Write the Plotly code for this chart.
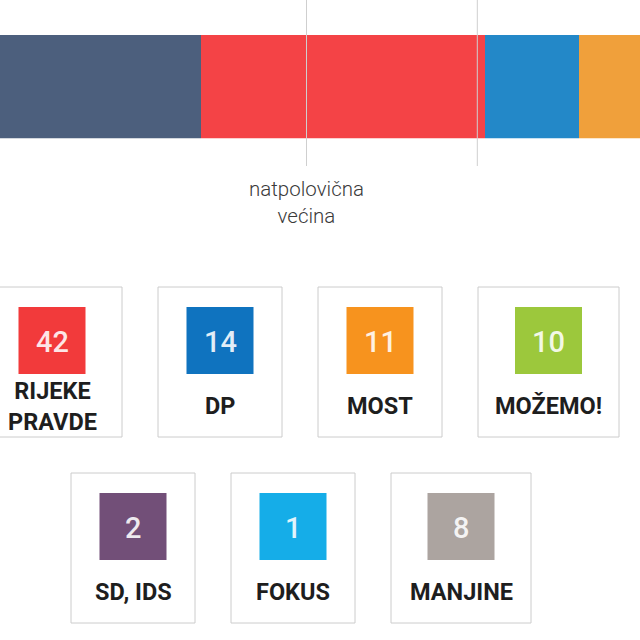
import plotly.graph_objects as go

# ---------------- data ----------------
bar_parties = ["HDZ", "Rijeke pravde", "DP", "Most", "Možemo!", "SD, IDS", "Fokus", "Manjine"]
bar_seats = [61, 42, 14, 11, 10, 2, 1, 8]
bar_colors = ["#4c5f7d", "#f44346", "#2388c8", "#f0a03b", "#9cc83c", "#724f78", "#15ade8", "#aca4a0"]

threshold_lines = [76.6, 101.9]          # majority / two-thirds markers (seat units)
threshold_label = "natpolovična<br>većina"

card_names_row1 = ["RIJEKE<br>PRAVDE", "DP", "MOST", "MOŽEMO!"]
card_seats_row1 = [42, 14, 11, 10]
card_colors_row1 = ["#f23a3b", "#0f73bf", "#f7931e", "#9cc83c"]

card_names_row2 = ["SD, IDS", "FOKUS", "MANJINE"]
card_seats_row2 = [2, 1, 8]
card_colors_row2 = ["#724f78", "#15ade8", "#aca4a0"]

# ---------------- figure ----------------
W = H = 640
fig = go.Figure()

for name, seats, col in zip(bar_parties, bar_seats, bar_colors):
    fig.add_trace(go.Bar(
        y=[0], x=[seats], name=name, orientation="h",
        marker=dict(color=col, line=dict(width=0)),
        hoverinfo="name+x", showlegend=False,
    ))

def px(x):
    return x / W

def py(y):
    return 1 - y / H

shapes = []
annotations = []

# threshold lines
for t in threshold_lines:
    shapes.append(dict(type="line", xref="x", yref="paper", x0=t, x1=t,
                       y0=py(166), y1=1.0, line=dict(color="#cfcfcf", width=1), layer="above"))

annotations.append(dict(xref="x", yref="paper", x=threshold_lines[0], y=py(203),
                        text=threshold_label, showarrow=False, xanchor="center", yanchor="middle",
                        borderpad=0,
                        font=dict(family="Roboto", size=20.5, color="#3a3a3a", weight=300)))

# cards
GAP = 36
SQ = 67
CARD_H = 150

def add_row(names, seats, colors, widths, x_start, top):
    x = x_start
    for name, s, col, w in zip(names, seats, colors, widths):
        cx = x + w / 2
        shapes.append(dict(type="rect", xref="paper", yref="paper",
                           x0=px(x), x1=px(x + w), y0=py(top + CARD_H), y1=py(top),
                           line=dict(color="#cccccc", width=1), fillcolor="white", layer="above"))
        sq_top = top + 20
        shapes.append(dict(type="rect", xref="paper", yref="paper",
                           x0=px(cx - SQ / 2), x1=px(cx + SQ / 2), y0=py(sq_top + SQ), y1=py(sq_top),
                           line=dict(width=0), fillcolor=col, layer="above"))
        annotations.append(dict(xref="paper", yref="paper", x=px(cx), y=py(sq_top + SQ / 2 + 1),
                                text=str(s), showarrow=False, xanchor="center", yanchor="middle",
                                font=dict(family="Roboto", size=29, color="rgba(255,255,255,0.88)", weight=500)))
        annotations.append(dict(xref="paper", yref="paper", x=px(cx), y=py(top + 119),
                                text=name, showarrow=False, xanchor="center", yanchor="middle",
                                borderpad=0,
                                font=dict(family="Roboto", size=23.5, color="#1e1e1e", weight=700)))
        x += w + GAP

add_row(card_names_row1, card_seats_row1, card_colors_row1, [140, 124, 124, 141], -18, 287)
add_row(card_names_row2, card_seats_row2, card_colors_row2, [124, 124, 140], 71, 473)

fig.update_layout(
    width=W, height=H, autosize=False,
    margin=dict(l=0, r=0, t=0, b=0, pad=0),
    paper_bgcolor="white", plot_bgcolor="white",
    barmode="stack", bargap=0,
    xaxis=dict(range=[31.2, 126.0], domain=[0, 1], visible=False, fixedrange=True),
    yaxis=dict(range=[-0.5, 0.5], domain=[py(138.3), py(34.7)], visible=False, fixedrange=True),
    shapes=shapes, annotations=annotations,
    font=dict(family="Roboto"),
)

fig.write_html("out.html", config={"displayModeBar": False},
               post_script="document.body.style.margin='0';")
